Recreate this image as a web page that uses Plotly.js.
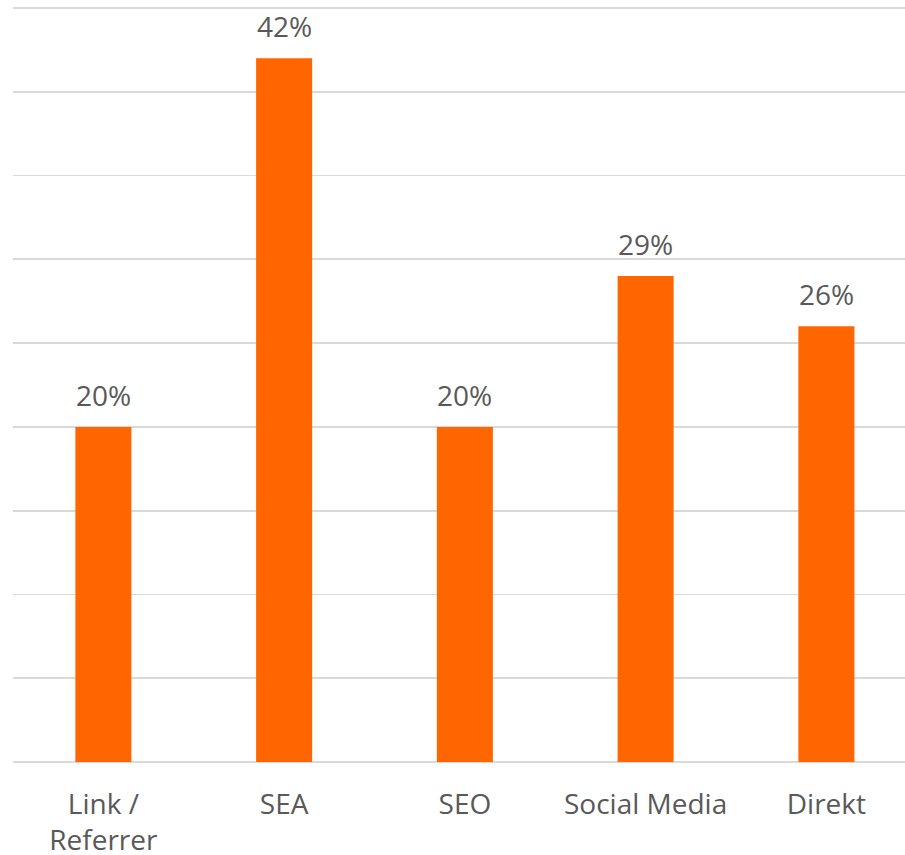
<!DOCTYPE html>
<html>
<head>
<meta charset="utf-8">
<script src="https://cdn.plot.ly/plotly-3.0.1.min.js"></script>
<style>html,body{margin:0;padding:0;background:#fff;}#chart{width:905px;height:855px;}</style>
</head>
<body>
<div id="chart"></div>
<script>
const categories = ["Link /<br>Referrer", "SEA", "SEO", "Social Media", "Direkt"];
const values = [20, 42, 20, 29, 26];
const labels = ["20%", "42%", "20%", "29%", "26%"];

const FONT = "Open Sans, Noto Sans, sans-serif";
const TXT = "#595959";

const trace = {
  type: "bar",
  x: [0, 1, 2, 3, 4],
  y: values,
  width: 0.31,
  marker: {color: "#FF6600"},
  hoverinfo: "none"
};

const annotations = values.map((v, i) => ({
  x: i, y: v, xref: "x", yref: "y",
  text: labels[i], showarrow: false,
  yanchor: "bottom", yshift: 11,
  font: {family: FONT, size: 28, color: TXT}
}));

const layout = {
  width: 905, height: 855,
  margin: {l: 13, r: 0, t: 6, b: 93},
  paper_bgcolor: "#fff", plot_bgcolor: "#fff",
  showlegend: false,
  xaxis: {
    range: [-0.5, 4.435],
    tickmode: "array", tickvals: [0, 1, 2, 3, 4], ticktext: categories,
    showgrid: false, zeroline: false, showline: false,
    ticks: "", ticklabelstandoff: 23,
    tickfont: {family: FONT, size: 28, color: TXT},
    fixedrange: true
  },
  yaxis: {
    range: [0, 45.12], dtick: 5, tick0: 0,
    showticklabels: false, ticks: "",
    showgrid: true, gridcolor: "#d9d9d9", gridwidth: 1.8,
    zeroline: true, zerolinecolor: "#d9d9d9", zerolinewidth: 1.8,
    showline: false, fixedrange: true
  },
  annotations: annotations
};

Plotly.newPlot("chart", [trace], layout, {staticPlot: true, displayModeBar: false});
</script>
</body>
</html>
